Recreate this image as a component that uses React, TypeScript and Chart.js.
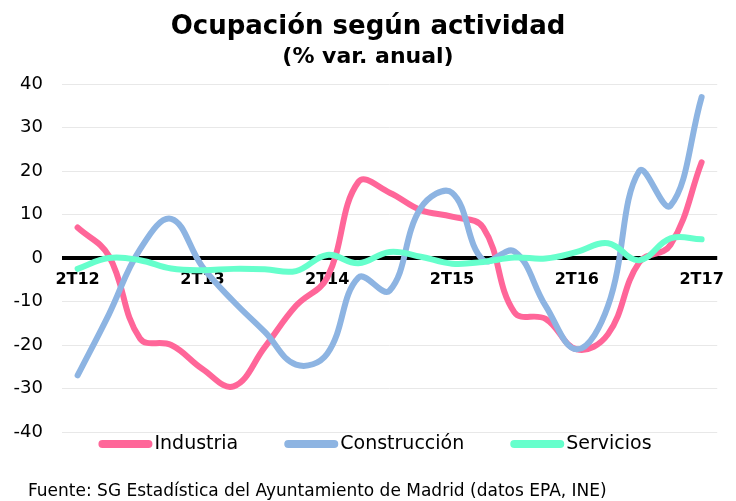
import React, { useEffect, useRef } from "react";
import { Chart, registerables } from "chart.js";

Chart.register(...registerables);

const quarters = [
  "2T12", "3T12", "4T12", "1T13",
  "2T13", "3T13", "4T13", "1T14",
  "2T14", "3T14", "4T14", "1T15",
  "2T15", "3T15", "4T15", "1T16",
  "2T16", "3T16", "4T16", "1T17",
  "2T17",
];

const industria = [7, 0.5, -18.5, -20, -25.5, -29.5, -20.5, -11, -4.5, 17.5, 15, 11, 9.5, 7, -12.5, -14, -21, -17.5, -1, 3, 22];
const construccion = [-27, -13, 2, 9, -2, -10, -17, -24.5, -22, -4.5, -7.5, 11.5, 15, -0.5, 1.5, -11, -21, -11, 20, 12, 37];
const servicios = [-2.5, 0, -0.5, -2.4, -2.8, -2.5, -2.6, -3, 0.7, -1.2, 1.4, 0.3, -1.3, -0.9, 0.1, -0.1, 1.4, 3.4, -0.5, 4.5, 4.3];

const seriesNames = ["Industria", "Construcción", "Servicios"];
const seriesColors = ["#FF6699", "#8DB4E2", "#66FFCC"];

const yTicks = [-40, -30, -20, -10, 0, 10, 20, 30, 40];

const titleText = "Ocupación según actividad";
const subtitleText = "(% var. anual)";
const sourceText = "Fuente: SG Estadística del Ayuntamiento de Madrid (datos EPA, INE)";

const FONT = "'DejaVu Sans', sans-serif";

const textPlugin = {
  id: "customText",
  afterDraw(chart: any) {
    const ctx = chart.ctx;
    const W = chart.width;
    ctx.save();
    ctx.fillStyle = "#000";
    ctx.textAlign = "center";
    ctx.textBaseline = "middle";
    ctx.font = `bold 26px ${FONT}`;
    ctx.fillText(titleText, W / 2, 27);
    ctx.font = `bold 22px ${FONT}`;
    ctx.fillText(subtitleText, W / 2, 57);

    // legend
    ctx.font = `19px ${FONT}`;
    const boxW = 52;
    const gapText = 4;
    const gapItem = 46;
    const widths = seriesNames.map((n) => ctx.measureText(n).width);
    let total = 0;
    widths.forEach((w, i) => {
      total += boxW + gapText + w + (i < widths.length - 1 ? gapItem : 0);
    });
    let x = (W - total) / 2 + 7;
    const ly = 444;
    seriesNames.forEach((n, i) => {
      ctx.strokeStyle = seriesColors[i];
      ctx.lineWidth = 8;
      ctx.lineCap = "round";
      ctx.beginPath();
      ctx.moveTo(x + 4, ly);
      ctx.lineTo(x + boxW - 2, ly);
      ctx.stroke();
      ctx.fillStyle = "#000";
      ctx.textAlign = "left";
      ctx.fillText(n, x + boxW + gapText, ly);
      x += boxW + gapText + widths[i] + gapItem;
    });

    ctx.font = `17px ${FONT}`;
    ctx.textAlign = "left";
    ctx.fillText(sourceText, 28, 492);
    ctx.restore();
  },
};

export default function App() {
  const ref = useRef<HTMLCanvasElement | null>(null);
  useEffect(() => {
    if (!ref.current) return;
    const data = [industria, construccion, servicios];
    const chart = new Chart(ref.current, {
      type: "line",
      data: {
        labels: quarters,
        datasets: data.map((d, i) => ({
          label: seriesNames[i],
          data: d,
          borderColor: seriesColors[i],
          backgroundColor: seriesColors[i],
          borderWidth: 6,
          pointRadius: 0,
          tension: 0.4,
          borderCapStyle: "round" as const,
          borderJoinStyle: "round" as const,
          order: 3 - i,
          fill: false,
        })),
      },
      options: {
        animation: false,
        responsive: true,
        maintainAspectRatio: false,
        layout: { padding: { top: 84, bottom: 69, right: 9, left: 0 } },
        plugins: {
          legend: { display: false },
          title: { display: false },
          tooltip: { enabled: false },
        },
        scales: {
          x: {
            type: "category",
            offset: true,
            position: { y: 0 } as any,
            grid: { display: false, drawTicks: false },
            border: { display: false },
            ticks: {
              autoSkip: false,
              maxRotation: 0,
              padding: 12,
              color: "#000",
              font: { family: FONT, size: 16, weight: "bold" },
              callback: (_v: any, i: number) => (i % 4 === 0 ? quarters[i] : ""),
            },
          },
          y: {
            min: yTicks[0],
            max: yTicks[yTicks.length - 1],
            afterBuildTicks: (scale: any) => {
              scale.ticks = yTicks.map((v) => ({ value: v }));
            },
            afterFit: (scale: any) => {
              scale.width = 62;
            },
            grid: {
              drawTicks: false,
              color: (c: any) => (c.tick && c.tick.value === 0 ? "#000000" : "#E8E8E8"),
              lineWidth: (c: any) => (c.tick && c.tick.value === 0 ? 4 : 1),
            },
            border: { display: false },
            ticks: {
              padding: 19,
              color: "#000",
              font: { family: FONT, size: 18 },
            },
          },
        },
      },
      plugins: [textPlugin],
    });
    return () => chart.destroy();
  }, []);
  return (
    <div style={{ position: "absolute", left: 0, top: 0, width: 736, height: 501, background: "#fff" }}>
      <canvas ref={ref} />
    </div>
  );
}
